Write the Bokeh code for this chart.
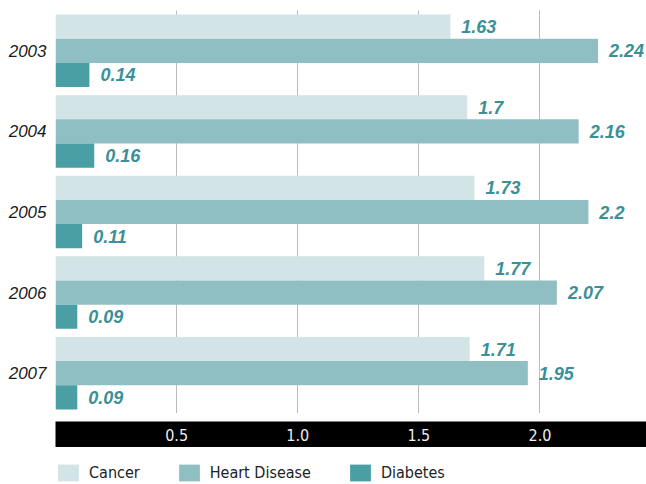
from bokeh.plotting import figure
from bokeh.layouts import column
from bokeh.models import (ColumnDataSource, FactorRange, Range1d, FixedTicker,
                          Legend, LegendItem)
from bokeh.transform import dodge
from bokeh.core.properties import value
from bokeh.embed import file_html
from bokeh.resources import INLINE

# ---- data ----
years = ["2003", "2004", "2005", "2006", "2007"]
cancer = [1.63, 1.7, 1.73, 1.77, 1.71]
heart = [2.24, 2.16, 2.2, 2.07, 1.95]
diabetes = [0.14, 0.16, 0.11, 0.09, 0.09]
series_names = ["Cancer", "Heart Disease", "Diabetes"]
grid_ticks = [0, 0.5, 1.0, 1.5, 2.0]
axis_ticks = [0.5, 1.0, 1.5, 2.0]
axis_tick_labels = ["0.5", "1.0", "1.5", "2.0"]
x_max = 2.44

colors = ["#d3e4e7", "#8fbfc3", "#4a9fa5"]
label_color = "#3a9097"
narrow = "DejaVu Sans Condensed"

source = ColumnDataSource(dict(
    year=years,
    cancer=cancer, heart=heart, diabetes=diabetes,
    cancer_lbl=[str(v) for v in cancer],
    heart_lbl=[str(v) for v in heart],
    diabetes_lbl=[str(v) for v in diabetes],
))

fields = ["cancer", "heart", "diabetes"]
offsets = [0.3, 0.0, -0.3]

# ---------------- main chart ----------------
p = figure(
    y_range=FactorRange(*reversed(years)),
    x_range=Range1d(0, x_max),
    width=646, height=413,
    x_axis_location=None,
    output_backend="svg", toolbar_location=None,
    min_border_left=55, min_border_right=0, min_border_top=10, min_border_bottom=0,
)
p.outline_line_color = None
p.background_fill_color = "white"

for f, off, col in zip(fields, offsets, colors):
    p.hbar(y=dodge("year", off, range=p.y_range), right=f, left=0, height=0.3,
           source=source, fill_color=col, line_color=None)
    p.text(x=f, y=dodge("year", off, range=p.y_range), text=f + "_lbl", source=source,
           x_offset=11, text_baseline="middle", text_align="left",
           text_font=value("Liberation Sans"), text_font_style="bold italic",
           text_font_size="18px", text_color=label_color)

p.ygrid.grid_line_color = None
p.xgrid.ticker = FixedTicker(ticks=grid_ticks)
p.xgrid.grid_line_color = "#777777"
p.xgrid.grid_line_dash = "1 1"
p.xgrid.grid_line_width = 1

ya = p.yaxis[0]
ya.axis_line_color = None
ya.major_tick_line_color = None
ya.minor_tick_line_color = None
ya.major_tick_out = 0
ya.major_label_standoff = 9
ya.major_label_text_font = "Liberation Sans"
ya.major_label_text_font_style = "italic"
ya.major_label_text_font_size = "17px"
ya.major_label_text_color = "#1a1a1a"

# ---------------- black axis band ----------------
band_src = ColumnDataSource(dict(x=axis_ticks, label=axis_tick_labels))
band = figure(
    width=646, height=26, x_range=p.x_range, y_range=Range1d(0, 1),
    x_axis_location=None, y_axis_location=None, margin=(8, 0, 0, 0),
    output_backend="svg", toolbar_location=None,
    min_border_left=55, min_border_right=0, min_border_top=0, min_border_bottom=0,
    background_fill_color="black", border_fill_color="white",
)
band.outline_line_color = None
band.xgrid.grid_line_color = None
band.ygrid.grid_line_color = None
band.text(x="x", y=0.5, text="label", source=band_src,
          text_align="center", text_baseline="middle",
          text_font=value(narrow), text_font_size="16px", text_color="#eeeeee")

# ---------------- legend ----------------
leg = figure(
    width=646, height=37, x_range=Range1d(0, x_max), y_range=FactorRange(*reversed(years)),
    x_axis_location=None, y_axis_location=None,
    output_backend="svg", toolbar_location=None,
    min_border_left=55, min_border_right=0, min_border_top=0, min_border_bottom=0,
)
leg.outline_line_color = None
leg.xgrid.grid_line_color = None
leg.ygrid.grid_line_color = None
leg_renderers = []
for f, off, col in zip(fields, offsets, colors):
    r = leg.hbar(y=dodge("year", off, range=leg.y_range), right=f, left=0, height=0.3,
                 source=source, fill_color=col, line_color=None, visible=False)
    leg_renderers.append(r)

legend = Legend(
    items=[LegendItem(label=n, renderers=[r]) for n, r in zip(series_names, leg_renderers)],
    orientation="horizontal", location=(0, 1),
    margin=0, padding=0, spacing=36,
    glyph_width=26, glyph_height=21, label_height=21, label_standoff=8,
    label_text_font=narrow, label_text_font_size="16px", label_text_color="#222222",
    border_line_color=None, background_fill_alpha=0,
    inactive_fill_alpha=0,
)
leg.add_layout(legend)

layout = column(p, band, leg, spacing=0)
open("out.html", "w").write(file_html(layout, INLINE))
